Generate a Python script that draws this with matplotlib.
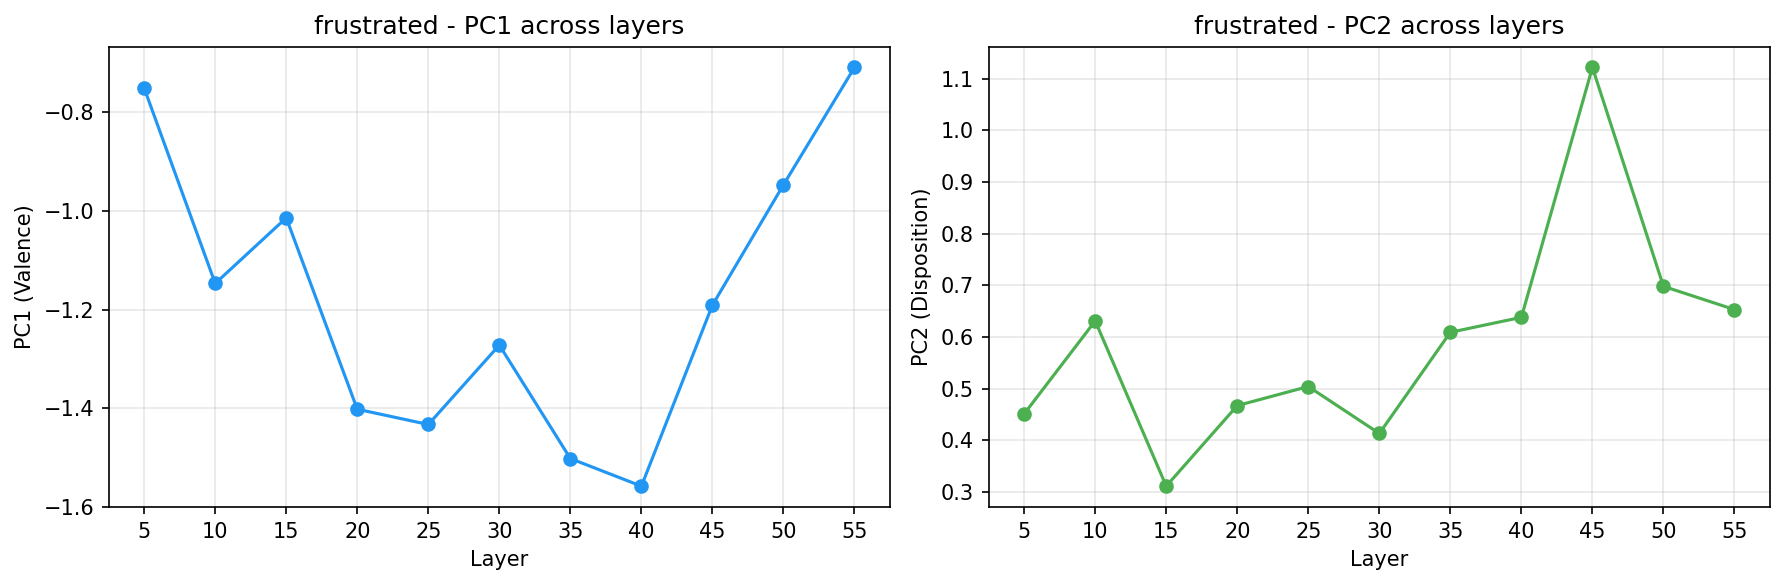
import matplotlib
matplotlib.use("Agg")
import matplotlib.pyplot as plt

layers = [5, 10, 15, 20, 25, 30, 35, 40, 45, 50, 55]
pc1 = [-0.751, -1.147, -1.014, -1.402, -1.433, -1.272, -1.502, -1.558, -1.191, -0.947, -0.709]
pc2 = [0.451, 0.631, 0.311, 0.467, 0.504, 0.413, 0.609, 0.638, 1.122, 0.698, 0.653]
emotion = "frustrated"

fig, axes = plt.subplots(1, 2, figsize=(12, 4), dpi=150)

ax = axes[0]
ax.plot(layers, pc1, marker="o", color="#2196F3", linewidth=1.5, markersize=6)
ax.set_xlabel("Layer")
ax.set_ylabel("PC1 (Valence)")
ax.set_title(f"{emotion} - PC1 across layers")
ax.set_xticks(layers)
ax.grid(True, alpha=0.3)

ax = axes[1]
ax.plot(layers, pc2, marker="o", color="#4CAF50", linewidth=1.5, markersize=6)
ax.set_xlabel("Layer")
ax.set_ylabel("PC2 (Disposition)")
ax.set_title(f"{emotion} - PC2 across layers")
ax.set_xticks(layers)
ax.grid(True, alpha=0.3)

fig.tight_layout()
fig.savefig("out.png", dpi=150, bbox_inches="tight")
